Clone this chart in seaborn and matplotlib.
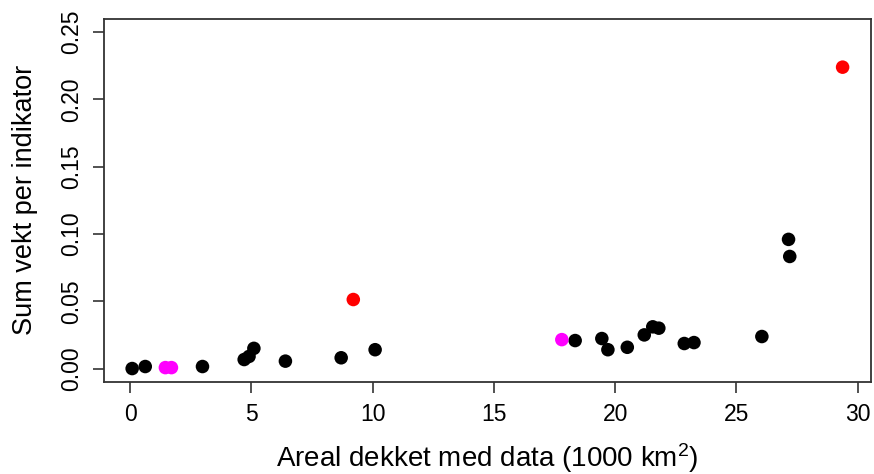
import numpy as np
import pandas as pd
import seaborn as sns
import matplotlib.pyplot as plt

# DATA
x_black = [0.08, 0.62, 2.98, 4.7, 4.9, 5.1, 6.4, 8.7, 10.1, 18.35, 19.45, 19.7,
           20.5, 21.2, 21.55, 21.8, 22.85, 23.25, 26.05, 27.15, 27.2]
y_black = [0.000, 0.0015, 0.0015, 0.0067, 0.009, 0.015, 0.0055, 0.008, 0.014,
           0.0208, 0.0223, 0.014, 0.0158, 0.025, 0.031, 0.030, 0.0186, 0.0193,
           0.0238, 0.096, 0.0833]
x_magenta = [1.45, 1.7, 17.8]
y_magenta = [0.0007, 0.0007, 0.0215]
x_red = [9.2, 29.38]
y_red = [0.0513, 0.224]

x_ticks = [0, 5, 10, 15, 20, 25, 30]
y_ticks = [0.00, 0.05, 0.10, 0.15, 0.20, 0.25]

df = pd.DataFrame({
    "areal": x_black + x_magenta + x_red,
    "vekt": y_black + y_magenta + y_red,
    "gruppe": ["svart"] * len(x_black) + ["magenta"] * len(x_magenta) + ["rod"] * len(x_red),
})
palette = {"svart": "black", "magenta": "#FF00FF", "rod": "#FF0000"}

sns.set_theme(style="white")
plt.rcParams["font.family"] = ["Liberation Sans", "DejaVu Sans"]
plt.rcParams["mathtext.default"] = "regular"

fig = plt.figure(figsize=(8.74, 4.74), dpi=100)
ax = fig.add_axes([0.1187, 0.1941, 0.9966 - 0.1187, 0.9605 - 0.1941])

sns.scatterplot(data=df, x="areal", y="vekt", hue="gruppe", palette=palette,
                s=95, linewidth=0, legend=False, ax=ax, zorder=3)

# R-style axis extent (4% padding)
xmin, xmax = min(df["areal"]), max(df["areal"])
pad = 0.04 * (xmax - xmin)
ax.set_xlim(xmin - pad, xmax + pad)
ax.set_ylim(0 - 0.01, 0.25 + 0.01)

ax.set_xticks(x_ticks)
ax.set_yticks(y_ticks)
ax.set_xticklabels([str(t) for t in x_ticks])
ax.set_yticklabels([f"{t:.2f}" for t in y_ticks], rotation=90, va="center")

for sp in ax.spines.values():
    sp.set_color("#333333")
    sp.set_linewidth(1.3)

ax.tick_params(axis="both", which="major", direction="out", length=8, width=1.2,
               color="#333333", labelsize=16.5, labelcolor="black", pad=7,
               bottom=True, left=True)

ax.set_xlabel(r"Areal dekket med data (1000 km$^2$)", fontsize=20, labelpad=11,
              color="black")
ax.set_ylabel("Sum vekt per indikator", fontsize=19.5, labelpad=16, color="black")

fig.savefig("out.png", dpi=100)
